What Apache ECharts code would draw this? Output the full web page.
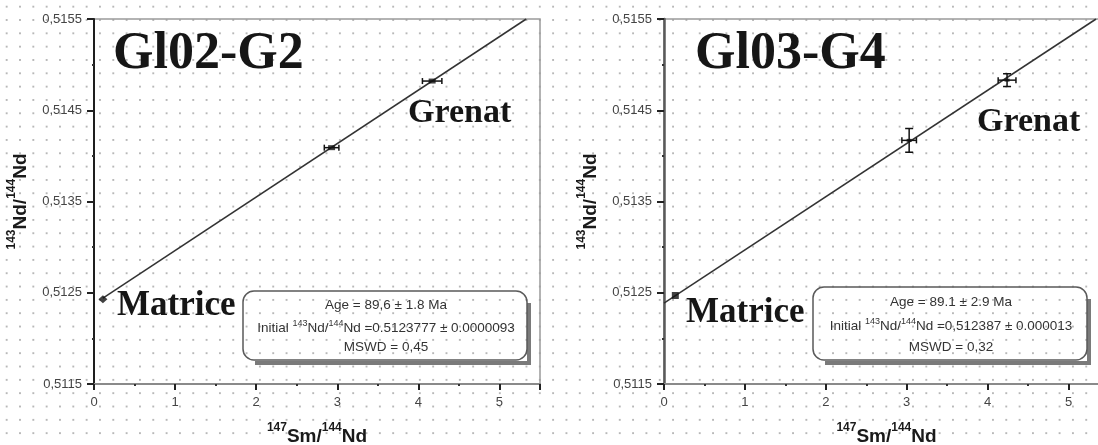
<!DOCTYPE html>
<html>
<head>
<meta charset="utf-8">
<script src="https://cdn.jsdelivr.net/npm/echarts@6/dist/echarts.min.js"></script>
<style>
  html, body { margin: 0; padding: 0; }
  body {
    width: 1098px; height: 445px; overflow: hidden;
    background-color: #ffffff;
    background-image: radial-gradient(circle, #b8b8b8 0.9px, rgba(255,255,255,0) 1.4px);
    background-size: 13.33px 13.33px;
    background-position: 0px 0px;
  }
  #chart { width: 1098px; height: 445px; }
</style>
</head>
<body>
<div id="chart"></div>
<script>
// ---- tick values ----
const yTicks = [0.5115, 0.5125, 0.5135, 0.5145, 0.5155];
const xTicks = [0, 1, 2, 3, 4, 5];
const xMax = 5.5;

// ---- left panel (Gl02-G2) ----
const leftX    = [0.11, 2.93, 4.17];
const leftY    = [0.51243, 0.51409, 0.51482];
const leftXErr = [0.0, 0.09, 0.12];
const leftYErr = [0.0, 0.00001, 0.00001];
const leftLineX = [0.11, 5.33];
const leftLineY = [0.51244, 0.5155];

// ---- right panel (Gl03-G4) ----
const rightX    = [0.14, 3.03, 4.24];
const rightY    = [0.51247, 0.51417, 0.51483];
const rightXErr = [0.0, 0.09, 0.11];
const rightYErr = [0.0, 0.00013, 0.00007];
const rightLineX = [0.0, 5.34];
const rightLineY = [0.512387, 0.5155];

// ---- texts ----
const titles = ['Gl02-G2', 'Gl03-G4'];
const ageLines = ['Age = 89,6 \u00b1 1.8 Ma', 'Age = 89.1 \u00b1 2.9 Ma'];
const initialValues = ['=0.5123777 \u00b1 0.0000093', '=0,512387 \u00b1 0.000013'];
const mswdLines = ['MSWD = 0,45', 'MSWD = 0,32'];

const chart = echarts.init(document.getElementById('chart'), null, { renderer: 'canvas' });

const nameRich = {
  sup: { fontSize: 12, fontWeight: 'bold', fontFamily: 'Liberation Sans', color: '#1a1a1a', verticalAlign: 'top', lineHeight: 24 },
  main: { fontSize: 19, fontWeight: 'bold', fontFamily: 'Liberation Sans', color: '#1a1a1a', verticalAlign: 'bottom', lineHeight: 24 }
};

function xAxisCfg(gridIndex) {
  return {
    type: 'value', gridIndex, min: xTicks[0], max: xMax, interval: 1,
    name: '{sup|147}{main|Sm/}{sup|144}{main|Nd}',
    nameLocation: 'middle', nameGap: 38,
    nameTextStyle: { rich: nameRich },
    axisLine: { show: true, onZero: false, lineStyle: { color: '#8a8a8a', width: 2 } },
    axisTick: { show: true, length: 6, lineStyle: { color: '#222', width: 2 } },
    minorTick: { show: true, splitNumber: 2, length: 2, lineStyle: { color: '#333', width: 2 } },
    axisLabel: {
      color: '#444', fontSize: 13, fontFamily: 'Liberation Sans', margin: 12,
      showMaxLabel: false,
      formatter: v => (xTicks.indexOf(v) >= 0 ? String(v) : '')
    },
    splitLine: { show: false }
  };
}
function yAxisCfg(gridIndex, lineColor, lineWidth) {
  return {
    type: 'value', gridIndex, min: yTicks[0], max: yTicks[yTicks.length - 1], interval: 0.001,
    name: '{sup|143}{main|Nd/}{sup|144}{main|Nd}',
    nameLocation: 'middle', nameGap: 64, nameRotate: 90,
    nameTextStyle: { rich: nameRich },
    axisLine: { show: true, onZero: false, lineStyle: { color: lineColor, width: lineWidth } },
    axisTick: { show: true, length: 7, lineStyle: { color: '#222', width: 2 } },
    minorTick: { show: true, splitNumber: 2, length: 2, lineStyle: { color: '#333', width: 2 } },
    axisLabel: {
      color: '#444', fontSize: 13, fontFamily: 'Liberation Sans', margin: 12,
      formatter: v => v.toFixed(4).replace('.', ',')
    },
    splitLine: { show: false }
  };
}

function errData(xs, ys, exs, eys) {
  return xs.map((x, i) => [x, ys[i], exs[i], eys[i]]);
}
function errRender(params, api) {
  const x = api.value(0), y = api.value(1), ex = api.value(2), ey = api.value(3);
  const children = [];
  const st = { stroke: '#111', lineWidth: 1.5 };
  if (ex > 0) {
    const l = api.coord([x - ex, y]), r = api.coord([x + ex, y]);
    children.push({ type: 'line', shape: { x1: l[0], y1: l[1], x2: r[0], y2: r[1] }, style: st });
    children.push({ type: 'line', shape: { x1: l[0], y1: l[1] - 3, x2: l[0], y2: l[1] + 3 }, style: st });
    children.push({ type: 'line', shape: { x1: r[0], y1: r[1] - 3, x2: r[0], y2: r[1] + 3 }, style: st });
  }
  if (ey > 0.00003) {
    const t = api.coord([x, y + ey]), b = api.coord([x, y - ey]);
    children.push({ type: 'line', shape: { x1: t[0], y1: t[1], x2: b[0], y2: b[1] }, style: st });
    children.push({ type: 'line', shape: { x1: t[0] - 4, y1: t[1], x2: t[0] + 4, y2: t[1] }, style: st });
    children.push({ type: 'line', shape: { x1: b[0] - 4, y1: b[1], x2: b[0] + 4, y2: b[1] }, style: st });
  }
  return { type: 'group', children };
}

function boxGraphics(bx, by, bw, bh, cx, idx, lineYs) {
  const sans = 'Liberation Sans';
  return [
    { type: 'polyline', z: 100,
      shape: { points: [[bx + bw + 2, by + 12], [bx + bw + 2, by + bh + 3], [bx + 12, by + bh + 3]] },
      style: { stroke: '#7a7a7a', lineWidth: 4, fill: null } },
    { type: 'rect', z: 101, shape: { x: bx, y: by, width: bw, height: bh, r: 11 },
      style: { fill: 'rgba(255,255,255,0)', stroke: '#5a5a5a', lineWidth: 1.5 } },
    { type: 'text', z: 102, x: cx, y: lineYs[0],
      style: { text: ageLines[idx], font: '13.5px ' + sans, fill: '#333', align: 'center', verticalAlign: 'middle' } },
    { type: 'text', z: 102, x: cx, y: lineYs[1],
      style: {
        text: '{n|Initial }{s|143}{n|Nd/}{s|144}{n|Nd ' + initialValues[idx] + '}',
        align: 'center', verticalAlign: 'middle',
        rich: {
          n: { fontSize: 13.5, fontFamily: sans, fill: '#333', color: '#333', verticalAlign: 'bottom', lineHeight: 16 },
          s: { fontSize: 9, fontFamily: sans, fill: '#333', color: '#333', verticalAlign: 'top', lineHeight: 16 }
        }
      } },
    { type: 'text', z: 102, x: cx, y: lineYs[2],
      style: { text: mswdLines[idx], font: '13.5px ' + sans, fill: '#333', align: 'center', verticalAlign: 'middle' } }
  ];
}

function bigText(text, x, y, size) {
  return { type: 'text', z: 90, x, y,
    style: { text, font: 'bold ' + size + 'px "Liberation Serif"', fill: '#161616', align: 'left', verticalAlign: 'middle' } };
}

const option = {
  animation: false,
  backgroundColor: 'transparent',
  grid: [
    { left: 94, top: 19, width: 446, height: 365, show: true, borderColor: '#9a9a9a', borderWidth: 1.5,
      backgroundColor: 'transparent', outerBoundsMode: 'none', containLabel: false },
    { left: 664, top: 19, width: 445, height: 365, show: true, borderColor: '#9a9a9a', borderWidth: 1.5,
      backgroundColor: 'transparent', outerBoundsMode: 'none', containLabel: false }
  ],
  xAxis: [xAxisCfg(0), xAxisCfg(1)],
  yAxis: [yAxisCfg(0, '#1e1e1e', 2), yAxisCfg(1, '#5a5a5a', 2.5)],
  series: [
    { type: 'line', xAxisIndex: 0, yAxisIndex: 0, data: leftLineX.map((x, i) => [x, leftLineY[i]]),
      showSymbol: false, lineStyle: { color: '#333', width: 1.5 }, z: 3 },
    { type: 'line', xAxisIndex: 1, yAxisIndex: 1, data: rightLineX.map((x, i) => [x, rightLineY[i]]),
      showSymbol: false, lineStyle: { color: '#333', width: 1.5 }, z: 3 },
    { type: 'custom', xAxisIndex: 0, yAxisIndex: 0, data: errData(leftX, leftY, leftXErr, leftYErr),
      renderItem: errRender, z: 4 },
    { type: 'custom', xAxisIndex: 1, yAxisIndex: 1, data: errData(rightX, rightY, rightXErr, rightYErr),
      renderItem: errRender, z: 4 },
    { type: 'scatter', xAxisIndex: 0, yAxisIndex: 0,
      data: leftX.map((x, i) => ({ value: [x, leftY[i]], symbol: i === 0 ? 'diamond' : 'rect', symbolSize: i === 0 ? [9, 8] : [7, 5] })),
      itemStyle: { color: '#111' }, z: 5 },
    { type: 'scatter', xAxisIndex: 1, yAxisIndex: 1,
      data: rightX.map((x, i) => ({ value: [x, rightY[i]], symbol: 'rect', symbolSize: i === 0 ? [7, 7] : [5, 3] })),
      itemStyle: { color: '#111' }, z: 5 }
  ],
  graphic: [].concat(
    [bigText(titles[0], 113, 55, 52), bigText(titles[1], 695, 55, 52)],
    [bigText('Grenat', 408, 113, 34), bigText('Grenat', 977, 122, 34)],
    [bigText('Matrice', 117, 306, 35), bigText('Matrice', 686, 313, 35)],
    boxGraphics(243, 291, 284, 69, 386, 0, [305, 327, 347]),
    boxGraphics(813, 287, 274, 73, 951, 1, [302, 325, 347])
  )
};
chart.setOption(option);
</script>
</body>
</html>
